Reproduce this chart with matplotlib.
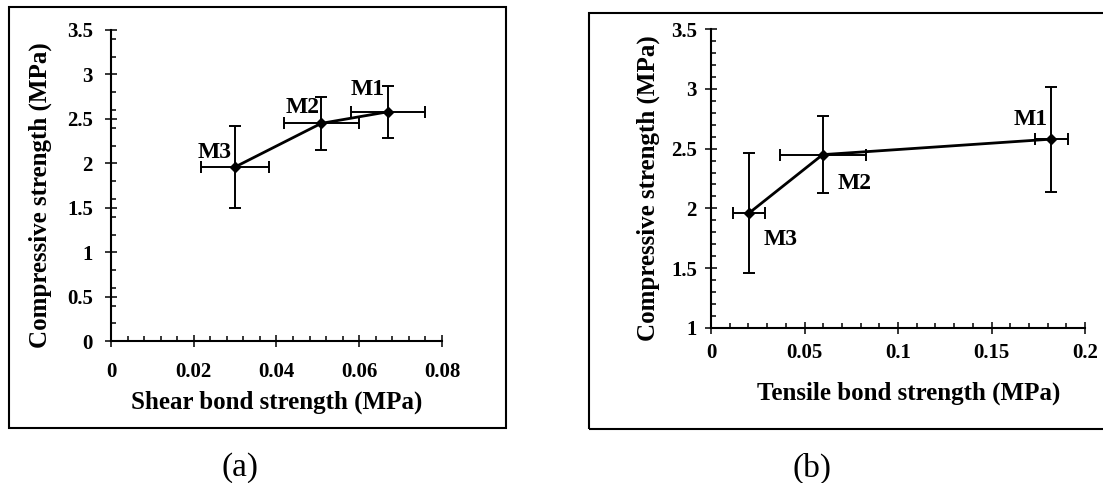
import matplotlib
matplotlib.use("Agg")
import matplotlib.pyplot as plt
from matplotlib.patches import Rectangle
from matplotlib.ticker import MultipleLocator

# Data (order: M1, M2, M3)
mixes = ["M1", "M2", "M3"]
compressive = [2.58, 2.45, 1.96]

shear_bond = [0.0669, 0.0508, 0.0300]
shear_err = [0.0090, 0.0091, 0.0083]
comp_err_a = [0.29, 0.30, 0.46]

tensile_bond = [0.182, 0.0597, 0.0203]
tensile_err = [0.0089, 0.023, 0.0088]
comp_err_b = [0.44, 0.32, 0.50]

plt.rcParams["font.family"] = ["Liberation Serif", "DejaVu Serif"]

fig = plt.figure(figsize=(11.03, 4.83), dpi=100)

# outer frames around each panel
fig.patches.append(Rectangle((0.0082, 0.1133), 0.4503, 0.8729, transform=fig.transFigure,
                             fill=False, edgecolor="black", linewidth=1.5))
fig.patches.append(Rectangle((0.5343, 0.1112), 0.52, 0.8613, transform=fig.transFigure,
                             fill=False, edgecolor="black", linewidth=1.5))


def style_axes(ax, xpad, ypad):
    for side in ["top", "right"]:
        ax.spines[side].set_visible(False)
    for side in ["left", "bottom"]:
        ax.spines[side].set_linewidth(1.5)
    ax.tick_params(which="major", direction="inout", length=8.4, width=1.1,
                   labelsize=15)
    ax.tick_params(which="minor", direction="in", length=3.6, width=1.1)
    ax.tick_params(axis="x", which="major", pad=xpad)
    ax.tick_params(axis="y", which="major", pad=ypad)
    for lab in ax.get_xticklabels() + ax.get_yticklabels():
        lab.set_fontweight("bold")


def draw(ax, x, xerr, y, yerr, offsets):
    ax.errorbar(x, y, xerr=xerr, yerr=yerr, color="black", linewidth=2,
                elinewidth=1.4, capsize=4, capthick=1.4, marker="D",
                markersize=5, clip_on=False)
    for name, xi, yi, off in zip(mixes, x, y, offsets):
        ax.annotate(name, (xi, yi), xytext=off, textcoords="offset pixels",
                    ha="center", va="center", fontsize=17, fontweight="bold")


# (a) shear bond vs compressive
ax1 = fig.add_axes([0.1006, 0.2934, 0.3001, 0.6445])
draw(ax1, shear_bond, shear_err, compressive, comp_err_a,
     [(-20, 22), (-19, 16), (-20, 14)])
ax1.set_xlim(0, 0.08)
ax1.set_ylim(0, 3.5)
ax1.xaxis.set_minor_locator(MultipleLocator(0.004))
ax1.yaxis.set_minor_locator(MultipleLocator(0.2))
ax1.set_xticks([0, 0.02, 0.04, 0.06, 0.08])
ax1.set_xticklabels(["0", "0.02", "0.04", "0.06", "0.08"])
ax1.set_yticks([0, 0.5, 1, 1.5, 2, 2.5, 3, 3.5])
ax1.set_yticklabels(["0", "0.5", "1", "1.5", "2", "2.5", "3", "3.5"])
style_axes(ax1, xpad=11, ypad=8.8)
ax1.set_xlabel("Shear bond strength (MPa)", fontsize=18, fontweight="bold")
ax1.set_ylabel("Compressive strength (MPa)", fontsize=18, fontweight="bold")
ax1.xaxis.set_label_coords(0.5, -0.158)
ax1.yaxis.set_label_coords(-0.179, 0.47)

# (b) tensile bond vs compressive
ax2 = fig.add_axes([0.6446, 0.3215, 0.3391, 0.6178])
draw(ax2, tensile_bond, tensile_err, compressive, comp_err_b,
     [(-21, 20), (32, -29), (32, -26)])
ax2.set_xlim(0, 0.2)
ax2.set_ylim(1, 3.5)
ax2.xaxis.set_minor_locator(MultipleLocator(0.01))
ax2.yaxis.set_minor_locator(MultipleLocator(0.1))
ax2.set_xticks([0, 0.05, 0.1, 0.15, 0.2])
ax2.set_xticklabels(["0", "0.05", "0.1", "0.15", "0.2"])
ax2.set_yticks([1, 1.5, 2, 2.5, 3, 3.5])
ax2.set_yticklabels(["1", "1.5", "2", "2.5", "3", "3.5"])
style_axes(ax2, xpad=7, ypad=6)
ax2.set_xlabel("Tensile bond strength (MPa)", fontsize=18, fontweight="bold")
ax2.set_ylabel("Compressive strength (MPa)", fontsize=18, fontweight="bold")
ax2.xaxis.set_label_coords(0.529, -0.179)
ax2.yaxis.set_label_coords(-0.136, 0.467)

fig.text(0.2176, 0.031, "(a)", ha="center", va="center", fontsize=24)
fig.text(0.7362, 0.031, "(b)", ha="center", va="center", fontsize=24)

fig.savefig("out.png", dpi=100)
